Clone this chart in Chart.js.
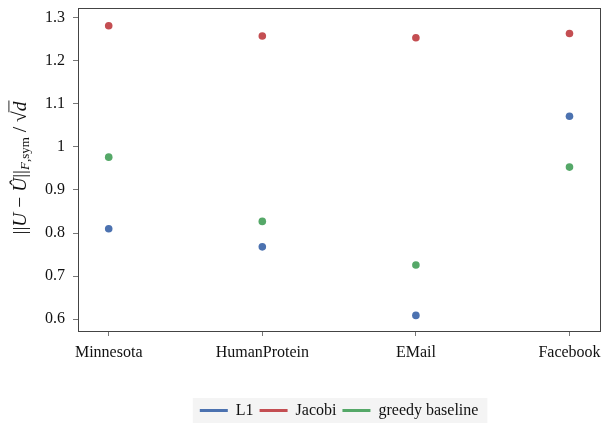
<!DOCTYPE html>
<html>
<head>
<meta charset="utf-8">
<script src="https://cdn.jsdelivr.net/npm/chart.js@4/dist/chart.umd.min.js"></script>
<style>
  html, body { margin: 0; padding: 0; background: #ffffff; }
  #wrap { width: 608px; height: 423px; }
</style>
</head>
<body>
<div id="wrap"><canvas id="c" width="608" height="423"></canvas></div>
<script>
// Datasets and their per-dataset error values
const categories = ['Minnesota', 'HumanProtein', 'EMail', 'Facebook'];
const l1Values     = [0.810, 0.768, 0.609, 1.071];
const jacobiValues = [1.281, 1.257, 1.253, 1.263];
const greedyValues = [0.976, 0.827, 0.726, 0.953];
const yTickValues  = [0.6, 0.7, 0.8, 0.9, 1.0, 1.1, 1.2, 1.3];

const SERIF = '"Liberation Serif", "DejaVu Serif", serif';
const COLORS = { l1: '#4c72b0', jacobi: '#c44e52', greedy: '#55a868' };

const toPoints = vals => vals.map((v, i) => ({ x: i, y: v }));

function series(label, vals, color) {
  return {
    label,
    data: toPoints(vals),
    showLine: false,
    backgroundColor: color,
    borderColor: color,
    borderWidth: 0,
    pointRadius: 3.8,
    pointHoverRadius: 3.8,
    pointBorderWidth: 0,
    pointBackgroundColor: color
  };
}

// Frame around the plotting area
const frame = {
  id: 'frame',
  afterDatasetsDraw(chart) {
    const a = chart.chartArea, ctx = chart.ctx;
    ctx.save();
    ctx.strokeStyle = '#444444';
    ctx.lineWidth = 1;
    ctx.strokeRect(Math.round(a.left) + 0.5, Math.round(a.top) + 0.5,
                   Math.round(a.right - a.left), Math.round(a.bottom - a.top));
    ctx.restore();
  }
};

// Light panel behind the legend entries
const legendPanel = {
  id: 'legendPanel',
  beforeDraw(chart) {
    const boxes = chart.legend && chart.legend.legendHitBoxes;
    if (!boxes || !boxes.length) return;
    let l = Infinity, r = -Infinity, cy = 0;
    boxes.forEach(b => { l = Math.min(l, b.left); r = Math.max(r, b.left + b.width); cy += b.top + b.height / 2; });
    cy /= boxes.length;
    const ctx = chart.ctx;
    ctx.save();
    ctx.fillStyle = '#f4f4f4';
    ctx.fillRect(l - 7, cy - 12.5, (r - l) + 16, 25);
    ctx.restore();
  }
};

// Rotated y-axis title: ||U − Û||_{F,sym} / √d
const yTitle = {
  id: 'yTitle',
  afterDraw(chart) {
    const ctx = chart.ctx;
    const size = 19.5, sub = 13;
    const up = `${size}px ${SERIF}`;
    const it = `italic ${size}px ${SERIF}`;
    const subIt = `italic ${sub}px ${SERIF}`;
    const subUp = `${sub}px ${SERIF}`;
    const parts = [
      { t: '||', f: up, dy: 0 },
      { t: 'U', f: it, dy: 0 },
      { t: ' − ', f: up, dy: 0 },
      { t: 'Û', f: it, dy: 0 },
      { t: '||', f: up, dy: 0 },
      { t: 'F', f: subIt, dy: 4.5 },
      { t: ',sym', f: subUp, dy: 4.5 },
      { t: ' / ', f: up, dy: 0 },
      { t: '√', f: up, dy: 0 },
      { t: 'd', f: it, dy: 0, bar: true }
    ];
    ctx.save();
    let total = 0;
    parts.forEach(p => { ctx.font = p.f; p.w = ctx.measureText(p.t).width; total += p.w; });
    const cx = 21, cy = 168;
    ctx.translate(cx, cy);
    ctx.rotate(-Math.PI / 2);
    ctx.fillStyle = '#111111';
    ctx.textBaseline = 'middle';
    ctx.textAlign = 'left';
    let x = -total / 2;
    parts.forEach(p => {
      ctx.font = p.f;
      ctx.fillText(p.t, x, p.dy);
      if (p.bar) {
        ctx.strokeStyle = '#111111';
        ctx.lineWidth = 0.9;
        ctx.beginPath();
        ctx.moveTo(x - 1, -size * 0.62);
        ctx.lineTo(x + p.w + 1, -size * 0.62);
        ctx.stroke();
      }
      x += p.w;
    });
    ctx.restore();
  }
};

const LEGEND_H = 32;

const chart = new Chart(document.getElementById('c'), {
  type: 'scatter',
  data: {
    datasets: [
      series('L1', l1Values, COLORS.l1),
      series('Jacobi', jacobiValues, COLORS.jacobi),
      series('greedy baseline', greedyValues, COLORS.greedy)
    ]
  },
  options: {
    responsive: false,
    animation: false,
    devicePixelRatio: 1,
    layout: { padding: { left: 0, right: 7, top: 8, bottom: -5.5 } },
    plugins: {
      tooltip: { enabled: false },
      legend: {
        position: 'bottom',
        fullSize: false,
        labels: {
          color: '#111111',
          font: { family: SERIF, size: 16 },
          boxWidth: 28,
          boxHeight: 3,
          padding: 6
        }
      }
    },
    scales: {
      x: {
        type: 'linear',
        min: -0.2,
        max: 3.2,
        afterBuildTicks(scale) {
          scale.ticks = categories.map((_, i) => ({ value: i }));
        },
        afterFit(scale) {
          scale.height = (423 - 331) - LEGEND_H + 5.5;
        },
        grid: { display: true, drawOnChartArea: false, drawTicks: true, tickLength: 5, color: '#777777' },
        border: { display: false },
        ticks: {
          color: '#111111',
          font: { family: SERIF, size: 16 },
          padding: 7,
          maxRotation: 0,
          autoSkip: false,
          callback: v => categories[v] ?? ''
        }
      },
      y: {
        min: 0.5728,
        max: 1.322,
        afterBuildTicks(scale) {
          scale.ticks = yTickValues.map(v => ({ value: v }));
        },
        afterFit(scale) {
          scale.width = 78;
          scale.paddingTop = 0;
          scale.paddingBottom = 0;
        },
        grid: { display: true, drawOnChartArea: false, drawTicks: true, tickLength: 5, color: '#777777' },
        border: { display: false },
        ticks: {
          color: '#111111',
          font: { family: SERIF, size: 16 },
          padding: 8,
          callback: v => String(Number(v.toFixed(1)))
        }
      }
    }
  },
  plugins: [legendPanel, frame, yTitle]
});
</script>
</body>
</html>
